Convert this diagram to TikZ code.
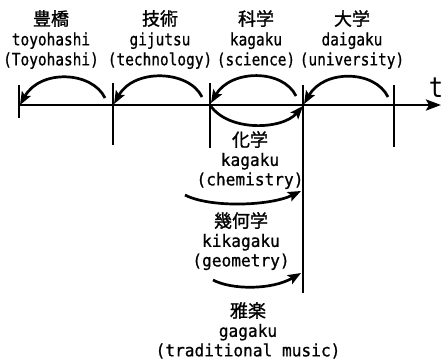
\documentclass[tikz,border=0pt]{standalone}
\usepackage{fontspec}
\setmainfont{DejaVu Sans Mono}
\newfontfamily\cjk[FakeBold=1.2]{Noto Sans CJK JP}
\newfontfamily\latA[FakeStretch=0.85,FakeBold=0.8]{DejaVu Sans Mono}
\newfontfamily\latB[FakeStretch=0.95,FakeBold=0.8]{DejaVu Sans Mono}
\newfontfamily\latT[FakeStretch=0.85]{DejaVu Sans Mono}
\usetikzlibrary{arrows.meta}
\newcommand{\jp}[1]{{\cjk\fontsize{18}{20}\selectfont #1}}
\tikzset{
  toplab/.style={anchor=north, inner sep=0pt, align=center, font=\fontsize{17}{20}\selectfont\latA},
  botlab/.style={anchor=north, inner sep=0pt, align=center, font=\fontsize{17}{19.5}\selectfont\latB},
  tickline/.style={line width=2.7pt},
  axisline/.style={line width=2.7pt, -{Stealth[length=15pt,width=11pt,inset=3pt]}},
  arcline/.style={line width=2.7pt, -{Stealth[length=13pt,width=10pt,inset=2.5pt]}},
}
\begin{document}
\begin{tikzpicture}[x=1pt,y=-1pt]
\useasboundingbox (0,0) rectangle (443,359);
% axis points
\coordinate (p0) at (19,105);
\coordinate (p1) at (113,105);
\coordinate (p2) at (210,105);
\coordinate (p3) at (303,105);
\coordinate (p4) at (394,105);
\coordinate (tend) at (441,105);
\coordinate (vbot) at (303,293);
% labels
\node[toplab] (l0) at (51,10) {\jp{豊橋}\\toyohashi\\(Toyohashi)};
\node[toplab] (l1) at (160,10) {\jp{技術}\\gijutsu\\(technology)};
\node[toplab] (l2) at (256,10) {\jp{科学}\\kagaku\\(science)};
\node[toplab] (l3) at (352,10) {\jp{大学}\\daigaku\\(university)};
\node[inner sep=0pt, font=\fontsize{28}{30}\selectfont\latT] (tlab) at (436,88) {t};
\node[botlab] (b1) at (250,131) {\jp{化学}\\kagaku\\(chemistry)};
\node[botlab] (b2) at (241,212) {\jp{幾何学}\\kikagaku\\(geometry)};
\node[botlab] (b3) at (248,302) {\jp{雅楽}\\gagaku\\(traditional music)};
% axis
\draw[axisline] (p0) -- (tend);
% ticks
\draw[tickline] (p0) ++(0,-20) -- ++(0,33);
\draw[tickline] (p1) ++(0,-22) -- ++(0,62);
\draw[tickline] (p2) ++(0,-22) -- ++(0,65);
\draw[tickline] (p3) ++(0,-20) -- (vbot);
\draw[tickline] (p4) ++(0,-20) -- ++(0,62);
% arcs above
\draw[arcline] (105,98) .. controls (92,71) and (40,69) .. (20,105);
\draw[arcline] (202,97) .. controls (189,70) and (134,68) .. (114,104);
\draw[arcline] (296,96) .. controls (283,69) and (231,69) .. (211,103);
\draw[arcline] (388,97) .. controls (375,70) and (324,69) .. (304,104);
% arc below
\draw[arcline] (p2) .. controls (228,132) and (282,130) .. (303,106);
\draw[arcline] (185,195) .. controls (210,208) and (270,206) .. (301,191);
\draw[arcline] (213,280) .. controls (232,290) and (272,290) .. (301,273);
\end{tikzpicture}
\end{document}
